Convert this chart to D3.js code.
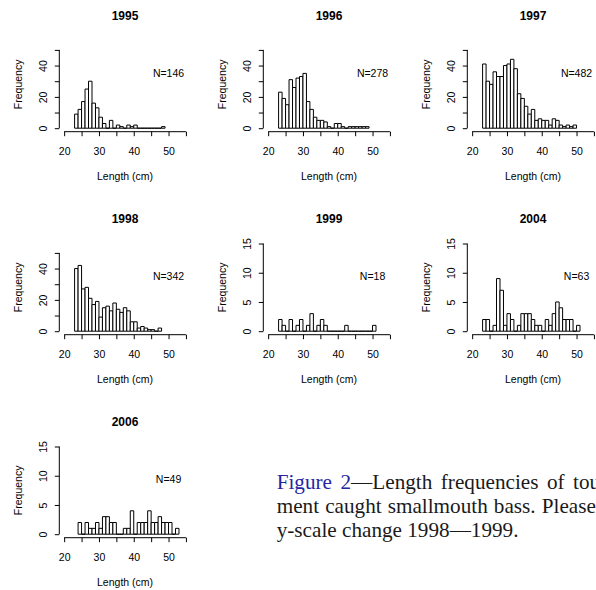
<!DOCTYPE html>
<html><head><meta charset="utf-8">
<script src="https://cdn.jsdelivr.net/npm/d3@7"></script>
<style>body{margin:0;background:#fff} svg{display:block}</style>
</head><body>
<svg id="c" width="596" height="590"></svg>
<script>
// ---------- data ----------
const panelYears = ["1995","1996","1997","1998","1999","2004","2006"];
const sampleSizes = [146,278,482,342,18,63,49];
const firstBin = [23,23,23,23,23,23,24];   // lower edge (cm) of first 1-cm bin
const counts1995 = [9,12,17,25,30,16,13,7,3,0,5,0,2,1,0,2,1,2,0,0,0,0,0,0,0,1];
const counts1996 = [23,19,15,31,26,32,33,35,17,12,7,5,5,4,1,0,3,3,1,0,1,1,1,1,1,1];
const counts1997 = [41,30,28,36,33,33,40,41,44,38,22,19,14,9,12,5,6,5,5,2,6,5,2,1,2,1,2];
const counts1998 = [40,42,27,28,21,17,19,9,15,16,13,18,14,12,15,13,6,6,2,3,2,1,1,0,2];
const counts1999 = [2,1,0,2,0,1,2,0,1,3,0,1,2,1,0,0,0,0,0,1,0,0,0,0,0,0,0,1];
const counts2004 = [2,2,0,1,9,7,1,3,2,0,1,3,3,3,2,1,1,0,2,1,3,5,4,2,2,2,0,1];
const counts2006 = [2,0,2,1,1,2,1,3,3,2,2,0,0,1,1,4,0,2,2,2,4,2,2,3,2,2,2,0,1];
const allCounts = [counts1995,counts1996,counts1997,counts1998,counts1999,counts2004,counts2006];
const yLimits = [56,56,56,56,15,15,15];
const yTicksLarge = [0,10,20,30,40,50];
const yTickLabelsLarge = ["0","","20","","40",""];
const yTicksSmall = [0,5,10,15];
const yTickLabelsSmall = ["0","5","10","15"];
const xLimits = [20,55];
const xTicks = [20,25,30,35,40,45,50,55];
const xTickLabels = ["20","","30","","40","","50",""];
const nLabelX = 50;
const xTitle = "Length (cm)";
const yTitle = "Frequency";

// ---------- layout ----------
const svg = d3.select("#c");
const sans = "'Liberation Sans', Arial, Helvetica, sans-serif";
const serif = "'Liberation Serif', 'Times New Roman', Times, serif";
const colPitch = 204, rowPitch = 203;
const plotL = 59.3, plotR = 190.8, plotT = 37, plotB = 131.7;

panelYears.forEach((year, i) => {
  const col = i % 3, row = Math.floor(i / 3);
  const g = svg.append("g").attr("transform", `translate(${col*colPitch},${row*rowPitch})`);
  const xPad = 0.04 * (xLimits[1] - xLimits[0]);
  const x = d3.scaleLinear().domain([xLimits[0]-xPad, xLimits[1]+xPad]).range([plotL, plotR]);
  const yl = yLimits[i], yPad = 0.04 * yl;
  const y = d3.scaleLinear().domain([-yPad, yl+yPad]).range([plotB, plotT]);
  const large = yl > 20;
  const yt = large ? yTicksLarge : yTicksSmall;
  const ytl = large ? yTickLabelsLarge : yTickLabelsSmall;

  // bars
  const counts = allCounts[i];
  g.append("g").selectAll("path").data(counts).join("path")
    .attr("d", (c, j) => {
      const x0 = x(firstBin[i] + j), x1 = x(firstBin[i] + j + 1);
      const y0 = y(0), y1 = y(c);
      return `M${x0},${y0}V${y1}H${x1}V${y0}Z`;
    })
    .attr("fill", "#fff").attr("stroke", "#000").attr("stroke-width", 1);

  // x axis
  const gx = g.append("g").attr("transform", `translate(0,${plotB})`)
    .call(d3.axisBottom(x).tickValues(xTicks).tickFormat((d,k) => xTickLabels[k]).tickSize(4.5).tickSizeOuter(0));
  gx.select(".domain").remove();
  gx.append("line").attr("x1", x(xTicks[0])).attr("x2", x(xTicks[xTicks.length-1]))
    .attr("stroke", "#000");
  gx.selectAll("text").attr("y", 19.5).attr("dy", "0.35em")
    .attr("font-size", 10.5).attr("font-family", sans).attr("fill", "#000");

  // y axis
  const gy = g.append("g").attr("transform", `translate(${plotL},0)`)
    .call(d3.axisLeft(y).tickValues(yt).tickFormat((d,k) => ytl[k]).tickSize(4.5).tickSizeOuter(0));
  gy.select(".domain").remove();
  gy.append("line").attr("y1", y(yt[0])).attr("y2", y(yt[yt.length-1])).attr("stroke", "#000");
  gy.selectAll("text").attr("x", 0).attr("dy", "0.35em")
    .attr("transform", "translate(-16,0) rotate(-90)")
    .attr("text-anchor", "middle")
    .attr("font-size", 10.5).attr("font-family", sans).attr("fill", "#000");
  gx.attr("font-family", sans); gy.attr("font-family", sans);

  // titles
  g.append("text").attr("x", (plotL+plotR)/2).attr("y", 16).attr("dy", "0.35em")
    .attr("text-anchor", "middle").attr("font-family", sans).attr("font-weight", "bold")
    .attr("font-size", 12).text(year);
  g.append("text").attr("x", (plotL+plotR)/2).attr("y", plotB + 44.5).attr("dy", "0.35em")
    .attr("text-anchor", "middle").attr("font-family", sans).attr("font-size", 10.5).text(xTitle);
  g.append("text").attr("transform", `translate(${plotL-41},${(plotT+plotB)/2}) rotate(-90)`)
    .attr("dy", "0.35em").attr("text-anchor", "middle").attr("font-family", sans)
    .attr("font-size", 10.5).text(yTitle);
  g.append("text").attr("x", x(nLabelX)).attr("y", plotB - 0.617*(plotB-plotT)).attr("dy", "0.35em")
    .attr("text-anchor", "middle").attr("font-family", sans).attr("font-size", 10.5)
    .text("N=" + sampleSizes[i]);
});

// caption
const cap = svg.append("g").attr("font-family", serif).attr("font-size", 21.2).attr("fill", "#1a1a1a");
const l1 = cap.append("text").attr("x", 276.7).attr("y", 489.3).attr("word-spacing", 3.2);
l1.append("tspan").attr("fill", "#2626a0").text("Figure 2");
l1.append("tspan").text("\u2014Length frequencies of tou");
cap.append("text").attr("x", 276.7).attr("y", 513).attr("word-spacing", 0.8)
  .text("ment caught smallmouth bass. Please");
cap.append("text").attr("x", 276.7).attr("y", 536.7).text("y-scale change 1998\u20141999.");
</script>
</body></html>
